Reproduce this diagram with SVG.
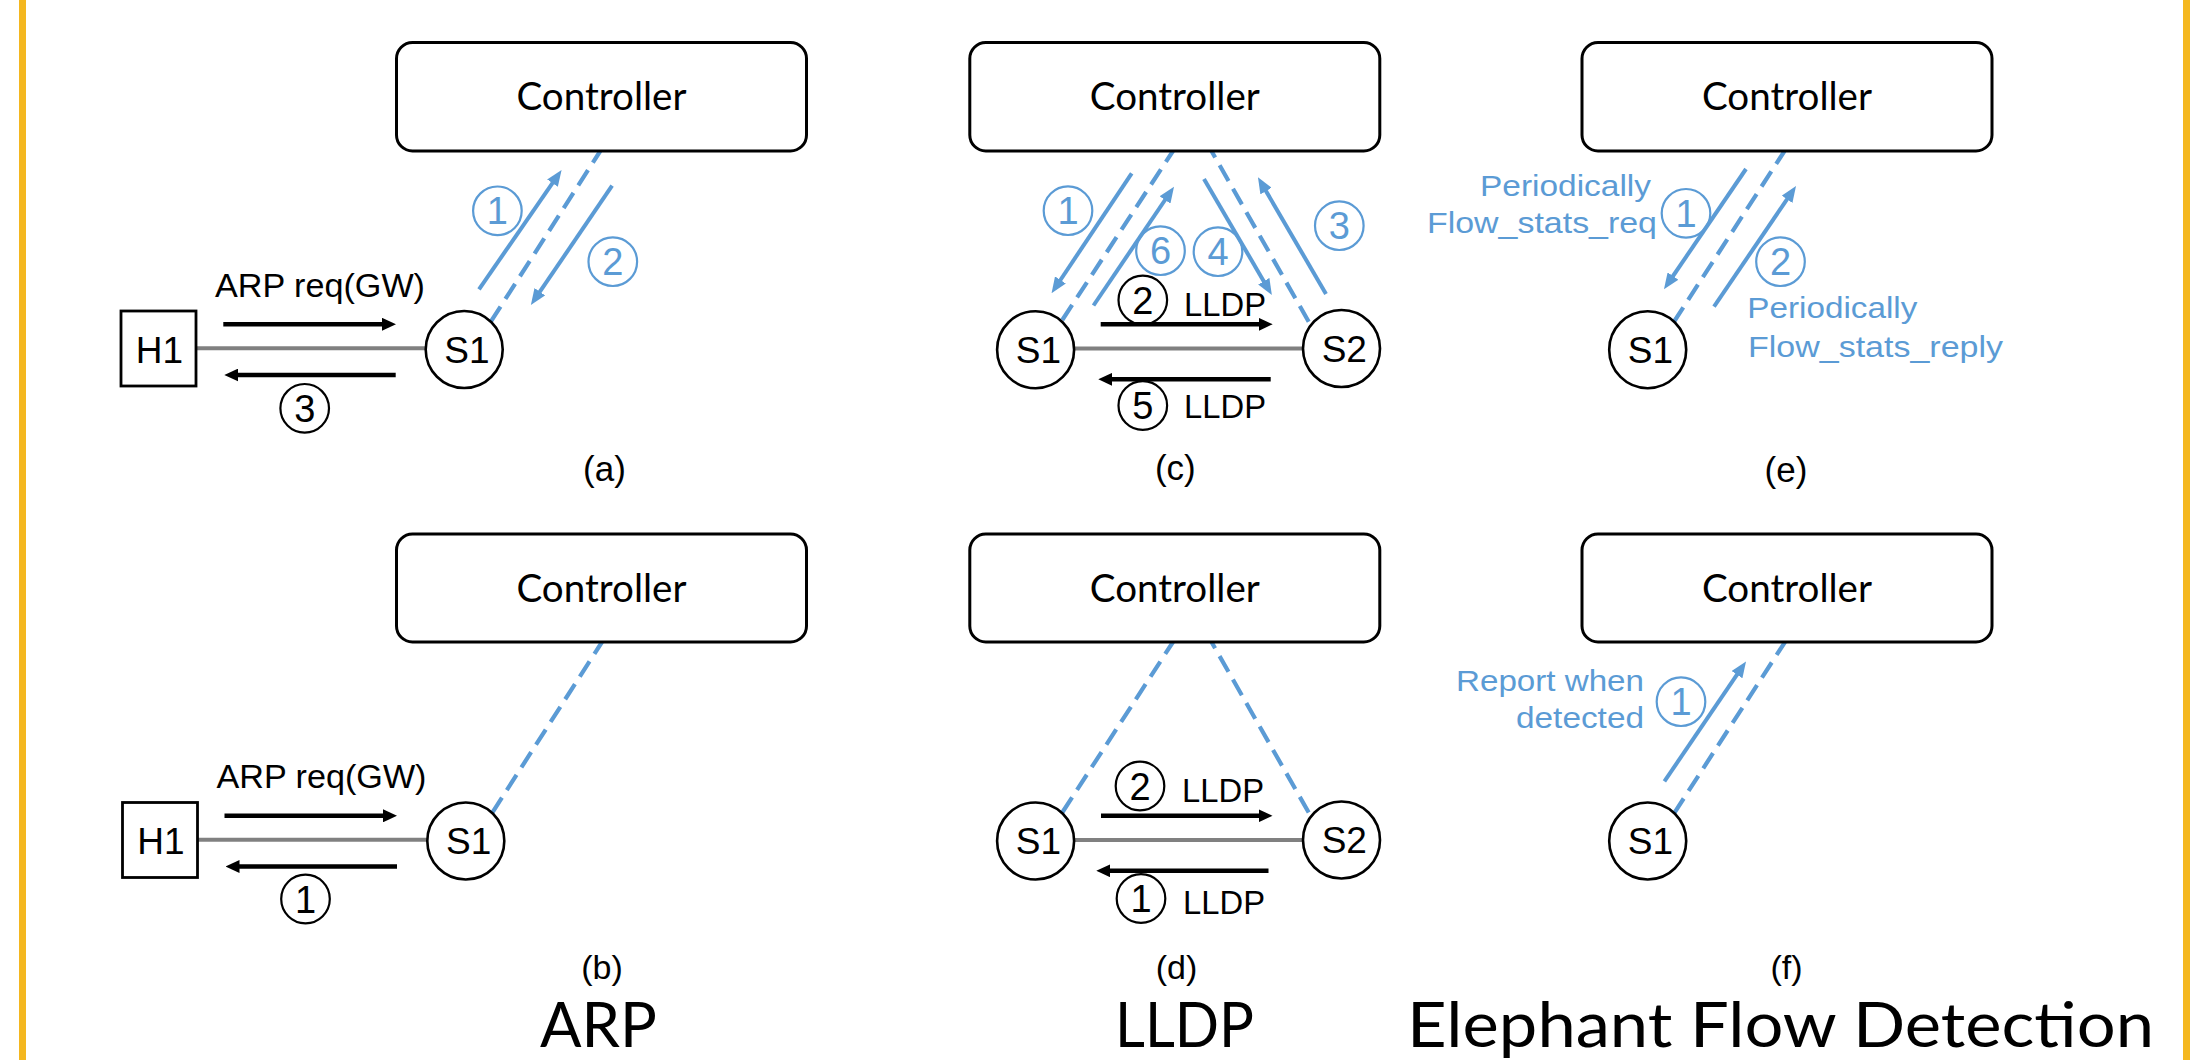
<svg xmlns="http://www.w3.org/2000/svg" width="2206" height="1060" viewBox="0 0 2206 1060">
  <style>
    .ctl { fill: #fff; stroke: #000; stroke-width: 3; }
    .ctl-t { font-family: Lato, "Open Sans", sans-serif; font-size: 38px; fill: #000; text-anchor: middle; }
    .sw { fill: #fff; stroke: #000; stroke-width: 2.6; }
    .nd-t { font-family: "Liberation Sans", Arial, sans-serif; font-size: 37px; fill: #000; text-anchor: middle; }
    .link { stroke: #808080; stroke-width: 4; }
    .blk { stroke: #000; stroke-width: 4.6; fill: none; marker-end: url(#ahBlack); }
    .blu { stroke: #5B9BD5; stroke-width: 4; fill: none; marker-end: url(#ahBlue); }
    .dash { stroke: #5B9BD5; stroke-width: 4.2; fill: none; stroke-dasharray: 18 9; }
    .lbl { font-family: "Liberation Sans", Arial, sans-serif; font-size: 33px; fill: #000; }
    .blbl { font-family: "Liberation Sans", Arial, sans-serif; font-size: 30px; fill: #5B9BD5; }
    .num-k circle { fill: none; stroke: #000; stroke-width: 2.2; }
    .num-b circle { fill: none; stroke: #5B9BD5; stroke-width: 2.2; }
    .num-k text, .num-b text { font-family: "Liberation Sans", Arial, sans-serif; font-size: 38px; text-anchor: middle; }
    .num-k text { fill: #000; }
    .num-b text { fill: #5B9BD5; }
    .cap { font-family: "Liberation Sans", Arial, sans-serif; font-size: 35px; fill: #000; text-anchor: middle; }
    .cap2 { font-family: "Liberation Sans", Arial, sans-serif; font-size: 34px; fill: #000; text-anchor: middle; }
    .ttl { font-family: Lato, "Open Sans", sans-serif; font-size: 61px; fill: #000; }
  </style>
  <defs>
    <marker id="ahBlack" markerUnits="userSpaceOnUse" markerWidth="14" markerHeight="13" refX="5" refY="6.5" orient="auto">
      <path d="M0,0 L14,6.5 L0,13 z" fill="#000"/>
    </marker>
    <marker id="ahBlue" markerUnits="userSpaceOnUse" markerWidth="16" markerHeight="13" refX="6" refY="6.5" orient="auto">
      <path d="M0,0 L16,6.5 L0,13 z" fill="#5B9BD5"/>
    </marker>
  </defs>

  <rect width="2206" height="1060" fill="#fff"/>
  <!-- side rules -->
  <rect x="19" y="0" width="7" height="1060" fill="#F4B71F"/>
  <rect x="2183" y="0" width="7" height="1060" fill="#F4B71F"/>

  <!-- ===== connectors ===== -->
  <g id="connectors">
    <!-- (a) -->
    <line class="link" x1="196" y1="348.3" x2="426" y2="348.3"/>
    <line class="blk" x1="223.3" y1="324.3" x2="387" y2="324.3"/>
    <line class="blk" x1="395.7" y1="375" x2="233.3" y2="375"/>
    <line class="dash" x1="490.8" y1="321.7" x2="600.3" y2="151"/>
    <line class="blu" x1="479" y1="289.3" x2="555.9" y2="178.2"/>
    <line class="blu" x1="612.1" y1="185.7" x2="536.5" y2="296.7"/>

    <!-- (b) -->
    <line class="link" x1="198" y1="839.8" x2="427" y2="839.8"/>
    <line class="blk" x1="224.5" y1="815.8" x2="388" y2="815.8"/>
    <line class="blk" x1="397" y1="866.5" x2="234.5" y2="866.5"/>
    <line class="dash" x1="492.2" y1="812.8" x2="602" y2="642"/>

    <!-- (c) -->
    <line class="link" x1="1073" y1="348.5" x2="1303" y2="348.5"/>
    <line class="blk" x1="1100.7" y1="324.3" x2="1263.7" y2="324.3"/>
    <line class="blk" x1="1270.7" y1="379.3" x2="1107.3" y2="379.3"/>
    <line class="dash" x1="1062.3" y1="320" x2="1173" y2="151"/>
    <line class="dash" x1="1308.7" y1="321.7" x2="1211.5" y2="151"/>
    <line class="blu" x1="1131.7" y1="173.3" x2="1057.1" y2="285"/>
    <line class="blu" x1="1093.5" y1="305.5" x2="1168.4" y2="195"/>
    <line class="blu" x1="1204" y1="179" x2="1266.8" y2="286.4"/>
    <line class="blu" x1="1326" y1="294" x2="1263" y2="185.9"/>

    <!-- (d) -->
    <line class="link" x1="1073" y1="840" x2="1303" y2="840"/>
    <line class="blk" x1="1101" y1="815.8" x2="1263.5" y2="815.8"/>
    <line class="blk" x1="1268.5" y1="870.8" x2="1105.3" y2="870.8"/>
    <line class="dash" x1="1062.3" y1="812.5" x2="1173" y2="642"/>
    <line class="dash" x1="1308.7" y1="812.5" x2="1211.5" y2="642"/>

    <!-- (e) -->
    <line class="dash" x1="1673.5" y1="322.5" x2="1784.5" y2="151"/>
    <line class="blu" x1="1746" y1="169" x2="1669.6" y2="281"/>
    <line class="blu" x1="1714" y1="306.7" x2="1790.4" y2="194.3"/>

    <!-- (f) -->
    <line class="dash" x1="1673.9" y1="813.6" x2="1785" y2="642"/>
    <line class="blu" x1="1664.4" y1="781.4" x2="1740.4" y2="669.7"/>
  </g>

  <!-- ===== panel (a) ===== -->
  <g id="ctrl-a"><rect class="ctl" x="396.5" y="42.5" width="410" height="108.5" rx="16"/><text class="ctl-t" x="601.5" y="110" textLength="170" lengthAdjust="spacingAndGlyphs">Controller</text></g>
  <g id="h1-a"><rect x="121" y="311" width="75" height="75" fill="#fff" stroke="#000" stroke-width="2.8"/><text class="nd-t" x="159.5" y="362.7">H1</text></g>
  <g id="s1-a"><circle class="sw" cx="464.2" cy="349.5" r="38.5"/><text class="nd-t" x="467" y="362.7">S1</text></g>
  <text class="lbl" x="215" y="297.3" textLength="210" lengthAdjust="spacingAndGlyphs">ARP req(GW)</text>
  <g class="num-k"><circle cx="304.7" cy="408.3" r="24.3"/><text x="304.7" y="421.8">3</text></g>
  <g class="num-b"><circle cx="497.4" cy="210.8" r="24.3"/><text x="497.4" y="224.3">1</text></g>
  <g class="num-b"><circle cx="612.8" cy="261.7" r="24.3"/><text x="612.8" y="275.2">2</text></g>
  <text class="cap" x="604.5" y="481">(a)</text>

  <!-- ===== panel (b) ===== -->
  <g id="ctrl-b"><rect class="ctl" x="396.5" y="534" width="410" height="108" rx="16"/><text class="ctl-t" x="601.5" y="601.5" textLength="170" lengthAdjust="spacingAndGlyphs">Controller</text></g>
  <g id="h1-b"><rect x="122.5" y="802.5" width="75" height="75" fill="#fff" stroke="#000" stroke-width="2.8"/><text class="nd-t" x="161" y="854.2">H1</text></g>
  <g id="s1-b"><circle class="sw" cx="465.8" cy="841" r="38.5"/><text class="nd-t" x="468.6" y="854.2">S1</text></g>
  <text class="lbl" x="216.5" y="788" textLength="210" lengthAdjust="spacingAndGlyphs">ARP req(GW)</text>
  <g class="num-k"><circle cx="305.5" cy="899" r="24.3"/><text x="305.5" y="912.5">1</text></g>
  <text class="cap2" x="602" y="979">(b)</text>
  <text class="ttl" x="540" y="1046.5" textLength="117" lengthAdjust="spacingAndGlyphs">ARP</text>

  <!-- ===== panel (c) ===== -->
  <g id="ctrl-c"><rect class="ctl" x="969.8" y="42.5" width="410" height="108.5" rx="16"/><text class="ctl-t" x="1174.8" y="110" textLength="170" lengthAdjust="spacingAndGlyphs">Controller</text></g>
  <g id="s1-c"><circle class="sw" cx="1035.6" cy="349.7" r="38.5"/><text class="nd-t" x="1038.4" y="362.9">S1</text></g>
  <g id="s2-c"><circle class="sw" cx="1341.5" cy="348.5" r="38.5"/><text class="nd-t" x="1344.3" y="361.7">S2</text></g>
  <g class="num-k"><circle cx="1142.8" cy="300" r="24.3"/><text x="1142.8" y="313.5">2</text></g>
  <text class="lbl" x="1184" y="315.7" font-size="30" textLength="82" lengthAdjust="spacingAndGlyphs">LLDP</text>
  <g class="num-k"><circle cx="1142.8" cy="405.5" r="24.3"/><text x="1142.8" y="419">5</text></g>
  <text class="lbl" x="1184" y="418.3" font-size="30" textLength="82" lengthAdjust="spacingAndGlyphs">LLDP</text>
  <g class="num-b"><circle cx="1068" cy="210.7" r="24.3"/><text x="1068" y="224.2">1</text></g>
  <g class="num-b"><circle cx="1160.5" cy="250.7" r="24.3"/><text x="1160.5" y="264.2">6</text></g>
  <g class="num-b"><circle cx="1218" cy="251.7" r="24.3"/><text x="1218" y="265.2">4</text></g>
  <g class="num-b"><circle cx="1339.3" cy="225.7" r="24.3"/><text x="1339.3" y="239.2">3</text></g>
  <text class="cap" x="1175.3" y="480">(c)</text>

  <!-- ===== panel (d) ===== -->
  <g id="ctrl-d"><rect class="ctl" x="969.8" y="534" width="410" height="108" rx="16"/><text class="ctl-t" x="1174.8" y="601.5" textLength="170" lengthAdjust="spacingAndGlyphs">Controller</text></g>
  <g id="s1-d"><circle class="sw" cx="1035.6" cy="841" r="38.5"/><text class="nd-t" x="1038.4" y="854.2">S1</text></g>
  <g id="s2-d"><circle class="sw" cx="1341.5" cy="840" r="38.5"/><text class="nd-t" x="1344.3" y="853.2">S2</text></g>
  <g class="num-k"><circle cx="1140" cy="786" r="24.3"/><text x="1140" y="799.5">2</text></g>
  <text class="lbl" x="1182" y="802" font-size="30" textLength="82" lengthAdjust="spacingAndGlyphs">LLDP</text>
  <g class="num-k"><circle cx="1141" cy="898.5" r="24.3"/><text x="1141" y="912">1</text></g>
  <text class="lbl" x="1183" y="913.5" font-size="30" textLength="82" lengthAdjust="spacingAndGlyphs">LLDP</text>
  <text class="cap2" x="1176.5" y="979">(d)</text>
  <text class="ttl" x="1115" y="1046.5" textLength="139" lengthAdjust="spacingAndGlyphs">LLDP</text>

  <!-- ===== panel (e) ===== -->
  <g id="ctrl-e"><rect class="ctl" x="1582" y="42.5" width="410" height="108.5" rx="16"/><text class="ctl-t" x="1787" y="110" textLength="170" lengthAdjust="spacingAndGlyphs">Controller</text></g>
  <g id="s1-e"><circle class="sw" cx="1647.7" cy="349.7" r="38.5"/><text class="nd-t" x="1650.5" y="362.9">S1</text></g>
  <text class="blbl" x="1480" y="195.7" textLength="171" lengthAdjust="spacingAndGlyphs">Periodically</text>
  <text class="blbl" x="1427" y="233.3" textLength="230" lengthAdjust="spacingAndGlyphs">Flow_stats_req</text>
  <text class="blbl" x="1747.3" y="318.3" textLength="170" lengthAdjust="spacingAndGlyphs">Periodically</text>
  <text class="blbl" x="1748" y="356.7" textLength="255" lengthAdjust="spacingAndGlyphs">Flow_stats_reply</text>
  <g class="num-b"><circle cx="1686" cy="213.3" r="24.3"/><text x="1686" y="226.8">1</text></g>
  <g class="num-b"><circle cx="1780.5" cy="261.7" r="24.3"/><text x="1780.5" y="275.2">2</text></g>
  <text class="cap" x="1786" y="482">(e)</text>

  <!-- ===== panel (f) ===== -->
  <g id="ctrl-f"><rect class="ctl" x="1582" y="534" width="410" height="108" rx="16"/><text class="ctl-t" x="1787" y="601.5" textLength="170" lengthAdjust="spacingAndGlyphs">Controller</text></g>
  <g id="s1-f"><circle class="sw" cx="1647.7" cy="841" r="38.5"/><text class="nd-t" x="1650.5" y="854.2">S1</text></g>
  <text class="blbl" x="1456" y="690.7" textLength="188" lengthAdjust="spacingAndGlyphs">Report when</text>
  <text class="blbl" x="1516" y="728.3" textLength="128" lengthAdjust="spacingAndGlyphs">detected</text>
  <g class="num-b"><circle cx="1681" cy="701.7" r="24.3"/><text x="1681" y="715.2">1</text></g>
  <text class="cap2" x="1786.5" y="979">(f)</text>
  <text class="ttl" x="1407" y="1046.5" textLength="747" lengthAdjust="spacingAndGlyphs">Elephant Flow Detection</text>
</svg>
